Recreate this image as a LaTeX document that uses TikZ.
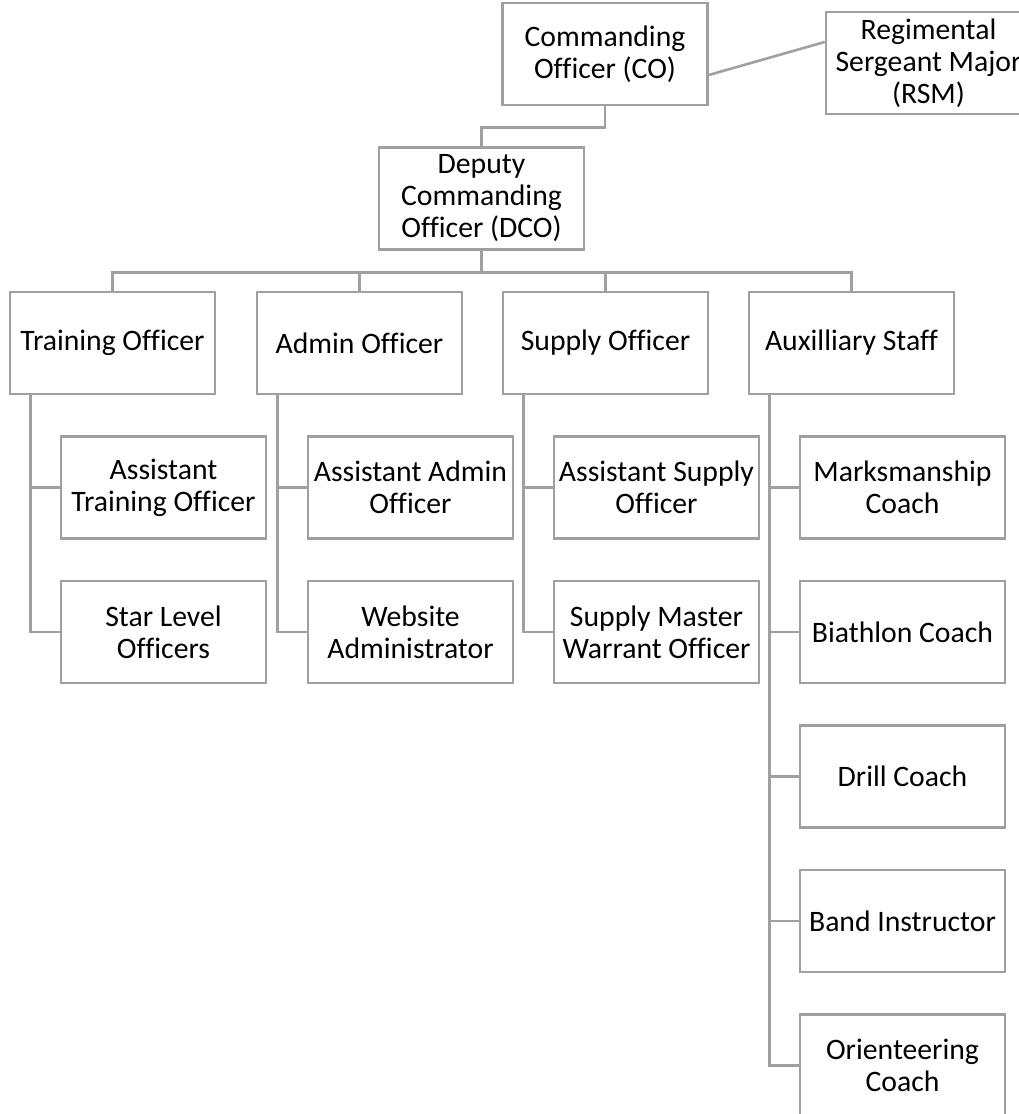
\documentclass[tikz,border=0pt]{standalone}
\usepackage{fontspec}
\setmainfont{Carlito}[Ligatures=CommonOff]
\usepackage{xcolor}
\usepackage{tikz}
\definecolor{boxgray}{RGB}{160,160,160}

\begin{document}
\begin{tikzpicture}[node distance=144.5pt, font=\fontsize{29.7}{32}\selectfont]
			\tikzstyle{officer} = [rectangle, minimum width=205pt, minimum height=102pt, align=center, inner sep=0pt, draw=boxgray, line width=2.6pt, execute at begin node={\spaceskip=0pt\xspaceskip=0pt}]
			
			\tikzstyle{link} = [draw=boxgray, line width=2.6pt]
			
			% Frame of the page
			\useasboundingbox (-481.5pt,198.5pt) rectangle (537.5pt,-915.5pt);
			
			% Command nodes
			\node (dco) [officer] {Deputy\\Commanding\\Officer (DCO)};
			\node (co) [officer, above of = dco, xshift=123.5pt] {Commanding\\Officer (CO)};
			\node (rsm) [officer, right of = co, xshift=179pt, yshift=-9pt] {Regimental\\Sergeant Major\\(RSM)};
			
  		% Level 1 nodes
  		\node (train) [officer, below of = dco, xshift=-369pt] {Training Officer};
  		\node (admin) [officer, below of = dco, xshift=-122pt] {Admin Officer};
  		\node (supply) [officer, below of = dco, xshift=124pt] {Supply Officer};
  		\node (aux) [officer, below of = dco, xshift=370pt] {Auxilliary Staff};
  		
  		% Level 2 nodes
  		\node (atrain) [officer, below of = train, xshift=51pt] {Assistant\\Training Officer};
  		\node (star) [officer, below of = atrain] {Star Level\\Officers};
  		\node (aadmin) [officer, below of = admin, xshift=51pt] {Assistant Admin\\Officer};
  		\node (web) [officer, below of = aadmin] {Website\\Administrator};
  		\node (asupply) [officer, below of = supply, xshift=51pt] {Assistant Supply\\Officer};
  		\node (smwo) [officer, below of = asupply] {Supply Master\\Warrant Officer};
  		\node (marks) [officer, below of = aux, xshift=51pt] {Marksmanship\\Coach};
  		\node (biath) [officer, below of = marks] {Biathlon Coach};
  		\node (drill) [officer, below of = biath] {Drill Coach};
  		\node (band) [officer, below of = drill] {Band Instructor};
  		\node (orient) [officer, below of = band] {Orienteering\\Coach};
  		
  		% Lines
  		\draw [link] (co.south) -- ++(0,-21pt) -| (dco.north);
  		\draw [link] ([yshift=-21pt]co.east) -- ([yshift=21pt]rsm.west);
  		\foreach \n in {train,admin,supply,aux}
  			\draw [link] (dco.south) -- ++(0,-21.5pt) -| (\n.north);
  		\foreach \p/\c in {train/atrain,train/star,admin/aadmin,admin/web,supply/asupply,supply/smwo,aux/marks,aux/biath,aux/drill,aux/band,aux/orient}
  			\draw [link] ([xshift=22pt]\p.south west) |- (\c.west);
		\end{tikzpicture}
\end{document}
